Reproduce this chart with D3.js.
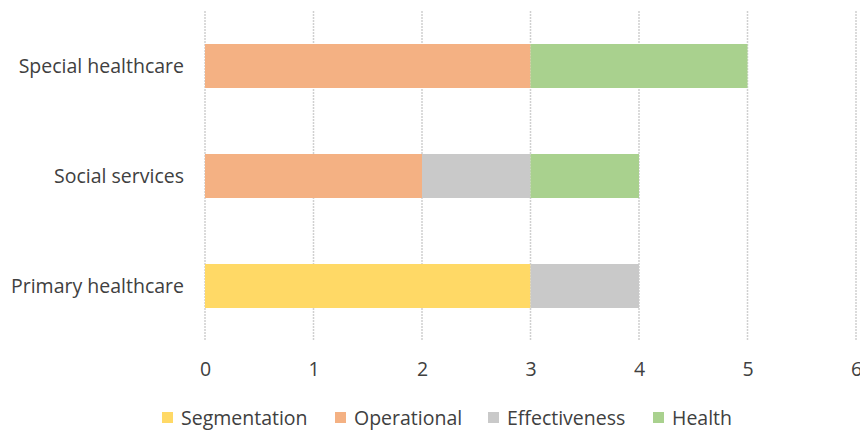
<!DOCTYPE html>
<html><head><meta charset="utf-8">
<script src="https://cdn.jsdelivr.net/npm/d3@7"></script>
<style>body{margin:0;background:#fff}svg{display:block}text{font-family:"Open Sans",sans-serif;fill:#404040}</style>
</head><body><svg id="c" width="860" height="430"></svg>
<script>
const categories = ["Special healthcare","Social services","Primary healthcare"];
const seriesNames = ["Segmentation","Operational","Effectiveness","Health"];
const segmentation = [0,0,3];
const operational = [3,2,0];
const effectiveness = [0,1,1];
const health = [2,1,0];
const xTicks = [0,1,2,3,4,5,6];
const colors = ["#FFD966","#F4B183","#C9C9C9","#A9D18E"];
const FS = "19.5px";

const svg = d3.select("#c");
const x = d3.scaleLinear().domain([0,6]).range([205,856]);
const y = d3.scaleBand().domain(categories).range([11,341]).paddingInner(0.6).paddingOuter(0.3);

const rows = categories.map((c,i)=>({cat:c, Segmentation:segmentation[i], Operational:operational[i], Effectiveness:effectiveness[i], Health:health[i]}));
const stacked = d3.stack().keys(seriesNames)(rows);

svg.append("g").selectAll("line").data(xTicks).join("line")
  .attr("x1",d=>x(d)).attr("x2",d=>x(d)).attr("y1",11).attr("y2",341)
  .attr("stroke","#d0d0d0").attr("stroke-width",1.5).attr("stroke-dasharray","2,1");

stacked.forEach((s,k)=>{
  svg.append("g").attr("fill",colors[k]).selectAll("rect").data(s.filter(d=>d[1]>d[0])).join("rect")
    .attr("x",d=>x(d[0])).attr("width",d=>x(d[1])-x(d[0]))
    .attr("y",d=>y(d.data.cat)).attr("height",y.bandwidth());
});

const xa = svg.append("g").attr("transform","translate(0,341)")
  .call(d3.axisBottom(x).tickValues(xTicks).tickSize(0).tickPadding(21).tickFormat(d3.format("d")));
xa.select(".domain").remove();
xa.selectAll("text").style("font-size",FS).attr("fill","#404040").style("font-family","'Open Sans',sans-serif");

const ya = svg.append("g").attr("transform","translate(184,1)")
  .call(d3.axisLeft(y).tickSize(0).tickPadding(0));
ya.select(".domain").remove();
ya.selectAll("text").style("font-size",FS).attr("fill","#404040").style("font-family","'Open Sans',sans-serif");

const legX = [162,335,488,653];
const leg = svg.append("g");
seriesNames.forEach((n,i)=>{
  leg.append("rect").attr("x",legX[i]).attr("y",412).attr("width",11).attr("height",11).attr("fill",colors[i]);
  leg.append("text").attr("x",legX[i]+19).attr("y",425).text(n).style("font-size",FS);
});
</script></body></html>
